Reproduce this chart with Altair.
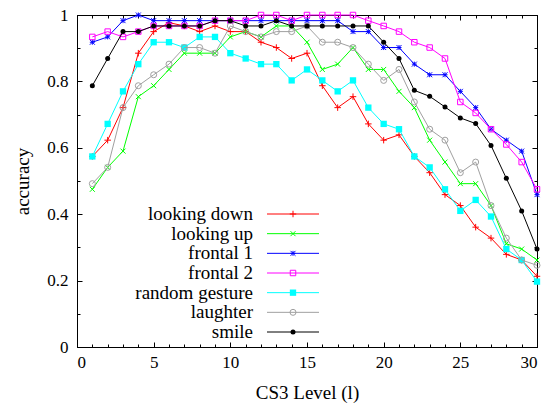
import altair as alt
import pandas as pd

# ---------------- data ----------------
levels = list(range(1, 31))
series_names = ["looking down", "looking up", "frontal 1", "frontal 2",
                "random gesture", "laughter", "smile"]

looking_down = [0.574, 0.623, 0.721, 0.885, 0.950, 0.977, 0.967, 0.950, 0.967, 0.950,
                0.950, 0.918, 0.902, 0.869, 0.885, 0.787, 0.721, 0.754, 0.672, 0.623,
                0.639, 0.574, 0.525, 0.459, 0.426, 0.361, 0.328, 0.279, 0.262, 0.213]
looking_up = [0.475, 0.541, 0.590, 0.754, 0.787, 0.836, 0.885, 0.885, 0.885, 0.934,
              0.950, 0.934, 0.967, 0.967, 0.918, 0.836, 0.852, 0.902, 0.836, 0.836,
              0.770, 0.721, 0.623, 0.557, 0.492, 0.492, 0.426, 0.311, 0.295, 0.262]
frontal_1 = [0.918, 0.934, 0.983, 1.000, 0.983, 0.983, 0.983, 0.983, 0.983, 0.983,
             0.983, 0.983, 0.983, 0.983, 0.983, 0.983, 0.983, 0.950, 0.950, 0.902,
             0.902, 0.852, 0.820, 0.820, 0.770, 0.721, 0.656, 0.623, 0.590, 0.459]
frontal_2 = [0.934, 0.950, 0.934, 0.950, 0.967, 0.967, 0.967, 0.967, 0.983, 0.983,
             0.983, 1.000, 1.000, 0.983, 1.000, 1.000, 1.000, 1.000, 0.983, 0.967,
             0.950, 0.918, 0.902, 0.869, 0.738, 0.705, 0.656, 0.610, 0.557, 0.475]
random_gesture = [0.574, 0.672, 0.770, 0.852, 0.918, 0.918, 0.902, 0.934, 0.934, 0.885,
                  0.869, 0.852, 0.852, 0.803, 0.836, 0.803, 0.770, 0.803, 0.721, 0.672,
                  0.656, 0.574, 0.541, 0.475, 0.410, 0.443, 0.393, 0.295, 0.262, 0.197]
laughter = [0.492, 0.541, 0.721, 0.787, 0.820, 0.852, 0.902, 0.902, 0.885, 0.967,
            0.950, 0.934, 0.950, 0.950, 0.967, 0.918, 0.918, 0.902, 0.852, 0.803,
            0.836, 0.738, 0.656, 0.623, 0.525, 0.557, 0.426, 0.328, 0.262, 0.246]
smile = [0.787, 0.869, 0.950, 0.950, 0.967, 0.967, 0.967, 0.967, 0.983, 0.983,
         0.967, 0.967, 0.983, 0.967, 0.967, 0.967, 0.967, 0.967, 0.967, 0.918,
         0.869, 0.773, 0.755, 0.723, 0.690, 0.673, 0.607, 0.508, 0.410, 0.295]

all_series = [looking_down, looking_up, frontal_1, frontal_2, random_gesture, laughter, smile]

x_major = [0, 5, 10, 15, 20, 25, 30]
x_minor = list(range(0, 31))
y_major = [0, 0.2, 0.4, 0.6, 0.8, 1]
y_minor = [round(i / 10, 1) for i in range(0, 11)]

# ---------------- styles ----------------
colors = ["#ff0000", "#00ff00", "#0000ff", "#ff00ff", "#00ffff", "#a0a0a0", "#000000"]
PLUS = "M-1,0L1,0M0,-1L0,1"
CROSS = "M-1,-1L1,1M-1,1L1,-1"
STAR = PLUS + CROSS
markers = [
    dict(shape=PLUS, filled=False, size=42),
    dict(shape=CROSS, filled=False, size=25),
    dict(shape=STAR, filled=False, size=25),
    dict(shape="square", filled=False, size=30),
    dict(shape="square", filled=True, size=40),
    dict(shape="circle", filled=False, size=36),
    dict(shape="circle", filled=True, size=25),
]

FONT = "Liberation Serif"
FS = 17
TFS = 19
LFS = 19

rows = []
for name, vals in zip(series_names, all_series):
    for lv, v in zip(levels, vals):
        rows.append({"series": name, "level": lv, "acc": v})
df = pd.DataFrame(rows)
legend_df = pd.DataFrame({"series": series_names, "row": list(range(len(series_names)))})

xs = alt.Scale(domain=[0, 30], nice=False, zero=False)
ys = alt.Scale(domain=[0, 1], nice=False, zero=False)


def axis(orient, values, size, labels=False, title=None, **kw):
    return alt.Axis(orient=orient, values=values, tickSize=size, offset=-size,
                    domain=False, grid=False, labels=labels, title=title,
                    tickColor="black", tickWidth=1, labelFont=FONT, titleFont=FONT,
                    labelFontSize=FS, titleFontSize=TFS, titleFontWeight="normal",
                    labelColor="black", titleColor="black", **kw)


layers = []

# axis layers
base = alt.Chart(df).mark_point(opacity=0)
layers.append(base.encode(
    x=alt.X("level:Q", scale=xs, axis=axis("bottom", x_major, 5, labels=True,
                                             title="CS3 Level (l)", labelPadding=7,
                                             titlePadding=13, format="d")),
    y=alt.Y("acc:Q", scale=ys, axis=axis("left", y_major, 5, labels=True,
                                          title="accuracy", labelPadding=9,
                                          titlePadding=14, format="~g")),
))
layers.append(base.encode(
    x=alt.X("level:Q", scale=xs, axis=axis("bottom", x_minor, 3)),
    y=alt.Y("acc:Q", scale=ys, axis=axis("left", y_minor, 3)),
))
layers.append(base.encode(
    x=alt.X("level:Q", scale=xs, axis=axis("top", x_major, 5)),
    y=alt.Y("acc:Q", scale=ys, axis=axis("right", y_major, 5)),
))
layers.append(base.encode(
    x=alt.X("level:Q", scale=xs, axis=axis("top", x_minor, 3)),
    y=alt.Y("acc:Q", scale=ys, axis=axis("right", y_minor, 3)),
))

# data layers
for name, col, mk in zip(series_names, colors, markers):
    layers.append(
        alt.Chart(df).transform_filter(alt.datum.series == name)
        .mark_line(color=col, strokeWidth=1,
                   point=alt.OverlayMarkDef(shape=mk["shape"], filled=mk["filled"],
                                            size=mk["size"], color=col, strokeWidth=1,
                                            opacity=1))
        .encode(x=alt.X("level:Q", scale=xs, axis=None),
                y=alt.Y("acc:Q", scale=ys, axis=None))
    )

# legend layers
leg_y = alt.Y("row:O", scale=alt.Scale(type="point", domain=list(range(7)),
                                        range=[199, 317], padding=0), axis=None)
for name, col, mk in zip(series_names, colors, markers):
    lb = alt.Chart(legend_df).transform_filter(alt.datum.series == name)
    layers.append(lb.mark_text(align="right", baseline="middle", font=FONT,
                               fontSize=LFS, color="black")
                  .encode(x=alt.value(176), y=leg_y, text="series:N"))
    layers.append(lb.mark_rule(color=col, strokeWidth=1)
                  .encode(x=alt.value(190), x2=alt.value(242), y=leg_y))
    layers.append(lb.mark_point(shape=mk["shape"], filled=mk["filled"], size=mk["size"],
                                color=col, strokeWidth=1, opacity=1)
                  .encode(x=alt.value(216), y=leg_y))

chart = (
    alt.layer(*layers)
    .resolve_scale(y="independent")
    .resolve_axis(x="independent", y="independent")
    .properties(width=460, height=332, background="white",
                autosize=alt.AutoSizeParams(type="none"),
                padding={"left": 77, "top": 15, "right": 12, "bottom": 56})
    .configure_view(stroke="black", strokeWidth=1)
)

chart.save("out.html", embed_options={"renderer": "svg", "actions": False})
